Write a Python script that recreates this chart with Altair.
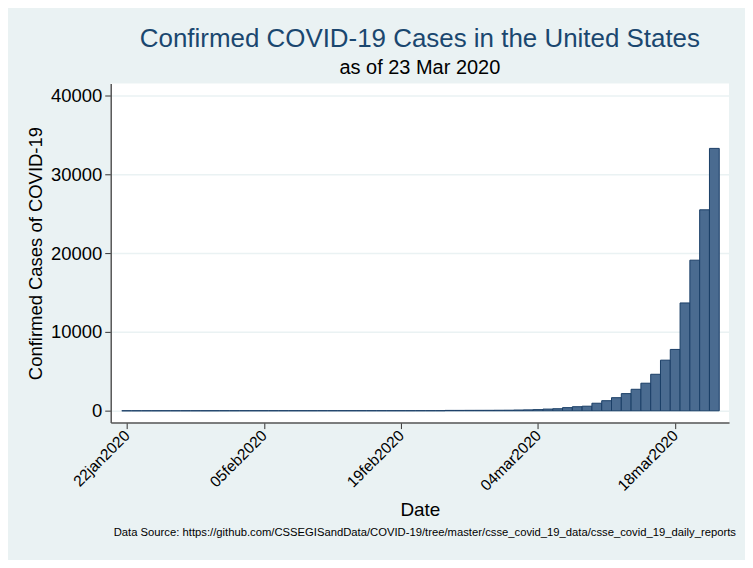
import altair as alt
import pandas as pd

dates = pd.date_range("2020-01-22", "2020-03-22", freq="D").strftime("%Y-%m-%d").tolist()
cases = [1, 1, 2, 2, 5, 5, 5, 5, 5, 7,
         8, 8, 11, 11, 11, 11, 11, 11, 11, 11,
         12, 12, 13, 13, 13, 13, 13, 13, 13, 13,
         15, 15, 15, 51, 51, 57, 58, 60, 68, 74,
         98, 118, 149, 217, 262, 402, 518, 583, 959, 1281,
         1663, 2179, 2727, 3499, 4632, 6421, 7783, 13677, 19100, 25489,
         33276]
tick_days = [0, 14, 28, 42, 56]
tick_labels = ["22jan2020", "05feb2020", "19feb2020", "04mar2020", "18mar2020"]
y_ticks = [0, 10000, 20000, 30000, 40000]

df = pd.DataFrame({"date": dates, "cases": cases})
df["day"] = range(len(df))
df["d0"] = df["day"] - 0.5
df["d1"] = df["day"] + 0.5

label_expr = "".join(f"datum.value=={d}?'{l}':" for d, l in zip(tick_days, tick_labels)) + "''"

FONT = "Liberation Sans"
BG = "#eaf2f3"

bars = alt.Chart(df).mark_bar(
    color="#4a6b90", stroke="#1a3e66", strokeWidth=1
).encode(
    x=alt.X("d0:Q", scale=alt.Scale(domain=[-1.63, 61.5], nice=False, zero=False),
            axis=alt.Axis(values=tick_days, labelExpr=label_expr, labelAngle=-45,
                          labelAlign="right", labelBaseline="middle", labelFontSize=15.5,
                          labelColor="#000000", labelPadding=4,
                          title="Date", titleFontSize=19, titleFontWeight="normal",
                          titleColor="#000000", titlePadding=7,
                          tickSize=6, tickColor="#333333", domainColor="#555555",
                          domainWidth=1.5, grid=False)),
    x2="d1:Q",
    y=alt.Y("cases:Q", scale=alt.Scale(domain=[-1500, 41500], nice=False),
            axis=alt.Axis(values=y_ticks, format="d", labelFontSize=18.5, labelColor="#000000",
                          labelPadding=3,
                          title="Confirmed Cases of COVID-19", titleFontSize=18.5,
                          titleFontWeight="normal", titleColor="#000000", titlePadding=5,
                          tickSize=6, tickColor="#333333", domainColor="#555555",
                          domainWidth=1.5, grid=True, gridColor=BG, gridWidth=1.5)),
    y2=alt.datum(0),
)

note = alt.Chart(pd.DataFrame({"t": ["Data Source: https://github.com/CSSEGISandData/COVID-19/tree/master/csse_covid_19_data/csse_covid_19_daily_reports"]})).mark_text(
    align="left", baseline="middle", fontSize=11.3, font="Liberation Sans Narrow, Liberation Sans",
    color="#000000"
).encode(x=alt.value(3), y=alt.value(451), text="t:N")

chart = (bars + note).properties(
    width=620, height=340,
    background=BG,
    padding={"left": 103, "top": 75, "right": 16, "bottom": 137},
    autosize=alt.AutoSizeParams(type="none"),
    title=alt.TitleParams(
        text="Confirmed COVID-19 Cases in the United States",
        subtitle="as of 23 Mar 2020",
        fontSize=26, fontWeight="normal", color="#1a476f", font=FONT,
        subtitleFontSize=20, subtitleColor="#000000", subtitleFont=FONT,
        subtitlePadding=6, anchor="middle", offset=6,
    ),
).configure(font=FONT).configure_view(fill="white", stroke=None)

chart.save("out.html", embed_options={"renderer": "svg", "actions": False})
